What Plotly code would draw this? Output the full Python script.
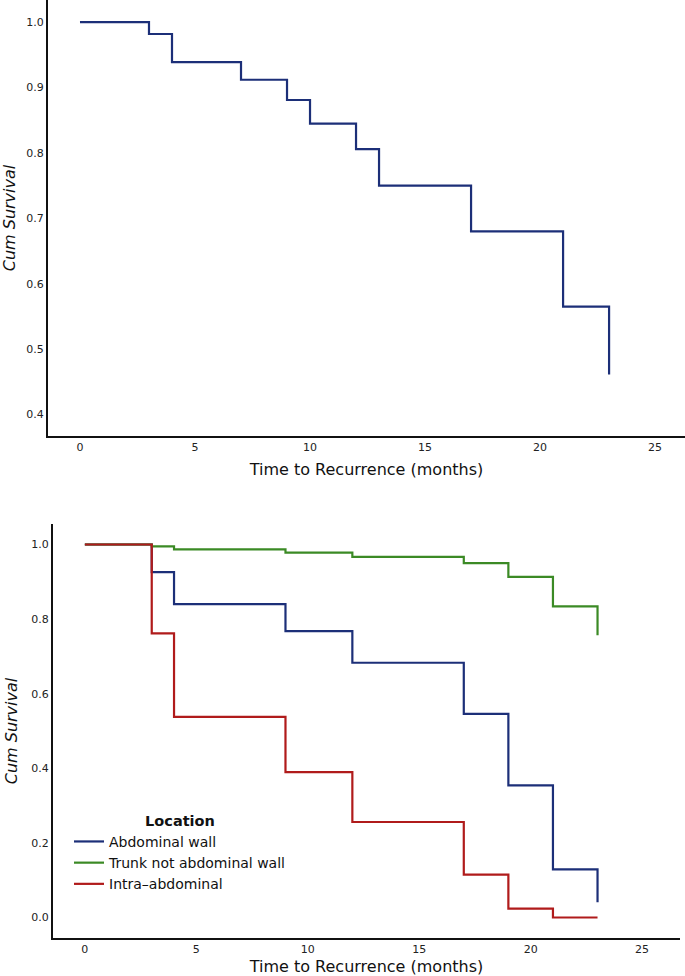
import plotly.graph_objects as go

# ---- Data: overall Kaplan-Meier curve (top panel)
overall_time = [0, 3, 4, 7, 9, 10, 12, 13, 17, 21, 23]
overall_surv = [1.0, 0.982, 0.939, 0.912, 0.881, 0.845, 0.806, 0.750, 0.680, 0.565, 0.461]

# ---- Data: by location (bottom panel)
loc_names = ["Abdominal wall", "Trunk not abdominal wall", "Intra\u2013abdominal"]
abd_time = [0, 3, 4, 9, 12, 17, 19, 21, 23]
abd_surv = [1.0, 0.926, 0.840, 0.768, 0.683, 0.546, 0.354, 0.129, 0.041]
trunk_time = [0, 3, 4, 9, 12, 17, 19, 21, 23]
trunk_surv = [1.0, 0.995, 0.987, 0.978, 0.967, 0.950, 0.913, 0.834, 0.757]
intra_time = [0, 3, 4, 9, 12, 17, 19, 21, 23]
intra_surv = [1.0, 0.762, 0.538, 0.390, 0.256, 0.115, 0.024, 0.0, 0.0]

x_ticks = [0, 5, 10, 15, 20, 25]
top_y_ticks = [0.4, 0.5, 0.6, 0.7, 0.8, 0.9, 1.0]
bot_y_ticks = [0.0, 0.2, 0.4, 0.6, 0.8, 1.0]

BLUE = "#1c2f78"
GREEN = "#3b8a25"
RED = "#b01b1b"

W, H = 685, 976
fig = go.Figure()

fig.add_trace(go.Scatter(x=overall_time, y=overall_surv, mode="lines",
                         line=dict(shape="hv", color=BLUE, width=2.2),
                         showlegend=False, xaxis="x", yaxis="y"))

for name, t, s, c in [(loc_names[0], abd_time, abd_surv, BLUE),
                      (loc_names[1], trunk_time, trunk_surv, GREEN),
                      (loc_names[2], intra_time, intra_surv, RED)]:
    fig.add_trace(go.Scatter(x=t, y=s, mode="lines", name=name,
                             line=dict(shape="hv", color=c, width=2.2),
                             xaxis="x2", yaxis="y2"))

tick_font = dict(family="DejaVu Sans", size=11, color="#222222")
title_font = dict(family="DejaVu Sans", size=16, color="#111111")

common_x = dict(showline=True, linecolor="#111111", linewidth=2, ticks="",
                showgrid=False, zeroline=False, tickfont=tick_font,
                tickvals=x_ticks, automargin=False, ticklabelstandoff=0)
common_y = dict(showline=True, linecolor="#111111", linewidth=2, ticks="",
                showgrid=False, zeroline=False, tickfont=tick_font,
                automargin=False)

fig.update_layout(
    width=W, height=H,
    margin=dict(l=0, r=0, t=0, b=0),
    paper_bgcolor="white", plot_bgcolor="white",
    xaxis=dict(common_x, domain=[48 / W, 1.0], range=[-1.39, 26.3], anchor="y",
               title=dict(text="Time to Recurrence (months)", font=title_font, standoff=11)),
    yaxis=dict(common_y, domain=[1 - 436 / H, 1.0], range=[0.367, 1.034], anchor="x",
               tickvals=top_y_ticks, tickformat=".1f",
               title=dict(text="<i>Cum Survival</i>", font=title_font, standoff=16)),
    xaxis2=dict(common_x, domain=[53 / W, 680 / W], range=[-1.43, 26.7], anchor="y2",
                title=dict(text="Time to Recurrence (months)", font=title_font, standoff=12)),
    yaxis2=dict(common_y, domain=[1 - 938 / H, 1 - 524 / H], range=[-0.055, 1.055], anchor="x2",
                tickvals=bot_y_ticks, tickformat=".1f",
                title=dict(text="<i>Cum Survival</i>", font=title_font, standoff=10)),
    legend=dict(x=69 / W, y=1 - 807 / H, xanchor="left", yanchor="top",
                bgcolor="rgba(0,0,0,0)", itemwidth=30,
                font=dict(family="DejaVu Sans", size=14, color="#111111"),
                title=dict(text="<b>Location</b>", side="top center",
                           font=dict(family="DejaVu Sans", size=14.5, color="#111111")),
                tracegroupgap=0),
)

fig.write_html("out.html", config={"displayModeBar": False},
               post_script="document.body.style.margin='0';document.body.style.padding='0';")
